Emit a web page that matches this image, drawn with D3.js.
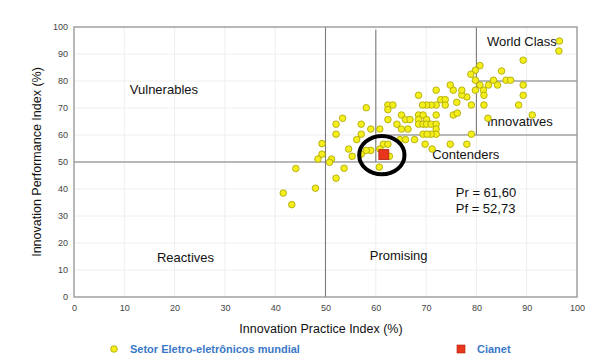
<!DOCTYPE html>
<html><head><meta charset="utf-8">
<script src="https://cdn.jsdelivr.net/npm/d3@7"></script>
<style>
html,body{margin:0;padding:0;background:#fff;}
svg{display:block;font-family:"Liberation Sans",Arial,sans-serif;}
</style></head>
<body>
<svg id="c" width="600" height="364"></svg>
<script>
// ---- data ----
const xTicks = [0,10,20,30,40,50,60,70,80,90,100];
const yTicks = [0,10,20,30,40,50,60,70,80,90,100];
const seriesNames = ["Setor Eletro-eletrônicos mundial", "Cianet"];
const sectorPoints = [
 [96.5,94.8],[96.4,91.1],[89.3,87.7],[80.7,85.7],[79.8,84.0],[78.9,82.5],[85.0,83.7],
 [79.8,80.3],[80.7,78.5],[79.8,76.6],[81.4,76.6],[82.4,78.5],[83.4,80.3],[84.2,78.5],
 [85.9,80.3],[86.8,80.3],[89.3,78.5],[89.3,74.7],[88.4,71.1],[91.1,67.4],[81.5,74.7],
 [81.5,71.1],[79.0,71.1],[78.1,74.1],[77.1,74.8],[77.1,76.6],[75.4,76.6],[74.8,78.5],
 [72.0,76.6],[68.5,74.7],[72.9,73.1],[73.8,73.1],[76.1,72.1],[73.8,71.1],[72.0,71.1],
 [71.0,71.1],[70.1,71.1],[69.3,71.1],[75.4,67.4],[76.2,68.1],[72.0,67.4],[68.5,67.4],
 [69.4,67.4],[68.5,65.7],[70.1,65.7],[68.5,64.0],[69.4,64.0],[70.1,64.0],[71.0,64.0],
 [72.0,64.0],[72.0,62.2],[72.0,60.3],[71.0,60.3],[69.4,60.3],[70.2,60.3],[79.0,60.3],
 [65.1,67.4],[65.9,65.7],[66.8,65.7],[62.4,65.7],[62.4,71.1],[63.4,71.1],[62.4,69.4],
 [58.1,70.1],[53.4,66.2],[52.1,64.0],[52.1,60.3],[57.1,64.0],[59.0,62.2],[60.8,62.2],
 [57.1,60.3],[56.2,58.3],[64.2,64.0],[65.1,62.2],[66.4,62.2],[64.8,58.3],[65.9,58.3],
 [67.7,58.3],[69.8,56.6],[71.2,54.8],[74.8,56.6],[78.1,56.6],[82.3,66.2],[61.5,56.6],
 [62.4,56.6],[60.8,54.8],[59.0,54.3],[58.1,54.3],[54.6,54.8],[57.1,52.9],[55.3,52.1],
 [62.7,52.1],[49.3,56.8],[49.3,52.9],[51.2,51.1],[48.5,51.1],[50.8,49.9],[60.7,48.1],
 [53.7,47.7],[52.1,44.0],[44.1,47.6],[48.0,40.3],[41.6,38.5],[43.3,34.2]
];
const cianetPr = 61.60;
const cianetPf = 52.73;
const quadrantLabels = ["World Class","Innovatives","Contenders","Vulnerables","Reactives","Promising"];
const xTitle = "Innovation Practice Index (%)";
const yTitle = "Innovation Performance Index (%)";

// ---- layout ----
const svg = d3.select("#c");
const L = 74, T = 27, W = 503, H = 270;
const x = d3.scaleLinear().domain([0,100]).range([L, L+W]);
const y = d3.scaleLinear().domain([0,100]).range([T+H, T]);

// gridlines
const g = svg.append("g");
g.selectAll("line.gx").data(xTicks.slice(1,-1)).enter().append("line")
  .attr("x1",d=>x(d)).attr("x2",d=>x(d)).attr("y1",y(0)).attr("y2",y(100))
  .attr("stroke","#eeeeee").attr("stroke-width",1);
g.selectAll("line.gy").data(yTicks.slice(1,-1)).enter().append("line")
  .attr("x1",x(0)).attr("x2",x(100)).attr("y1",d=>y(d)).attr("y2",d=>y(d))
  .attr("stroke","#eeeeee").attr("stroke-width",1);

// quadrant lines
const qc = "#7a7a7a";
const seg = (x1,y1,x2,y2)=>g.append("line").attr("x1",x(x1)).attr("y1",y(y1)).attr("x2",x(x2)).attr("y2",y(y2))
  .attr("stroke",qc).attr("stroke-width",1.1);
seg(50,0,50,100);
seg(0,50,100,50);
seg(60,50,60,99);
seg(60,60,100,60);
seg(80,60,80,100);
seg(80,80,100,80);

// border
g.append("rect").attr("x",x(0)).attr("y",y(100)).attr("width",W).attr("height",H)
  .attr("fill","none").attr("stroke","#9a9a9a").attr("stroke-width",1.4);

// axes
const xa = svg.append("g").attr("transform",`translate(0,${y(0)})`)
  .call(d3.axisBottom(x).tickValues(xTicks).tickSize(0).tickPadding(8));
const ya = svg.append("g").attr("transform",`translate(${x(0)},0)`)
  .call(d3.axisLeft(y).tickValues(yTicks).tickSize(0).tickPadding(6));
[xa,ya].forEach(a=>{
  a.select(".domain").remove();
  a.selectAll("text").attr("font-size",9).attr("fill","#444").attr("font-family","Liberation Sans, Arial, sans-serif");
});

// titles
svg.append("text").attr("x",321).attr("y",333).attr("text-anchor","middle")
  .attr("font-size",12.5).attr("fill","#111").text(xTitle);
svg.append("text").attr("transform",`translate(41,${162}) rotate(-90)`).attr("text-anchor","middle")
  .attr("font-size",12.5).attr("fill","#111").text(yTitle);

// quadrant labels
const lblPos = [[82.1,92.9],[82.1,63.2],[71.2,51.0],[11.1,75.1],[16.5,12.9],[58.8,13.6]];
quadrantLabels.forEach((t,i)=>{
  svg.append("text").attr("x",x(lblPos[i][0])).attr("y",y(lblPos[i][1]))
    .attr("font-size",13).attr("fill","#111").text(t);
});

// points
const yellowFill = "#f3ee1c", yellowStroke = "#a8a200";
svg.append("g").selectAll("circle").data(sectorPoints).enter().append("circle")
  .attr("cx",d=>x(d[0])).attr("cy",d=>y(d[1])).attr("r",3.3)
  .attr("fill",yellowFill).attr("stroke",yellowStroke).attr("stroke-width",0.8);

// Cianet point
const sq = 10;
svg.append("rect").attr("x",x(cianetPr)-sq/2).attr("y",y(cianetPf)-sq/2).attr("width",sq).attr("height",sq)
  .attr("fill","#e8361c").attr("stroke","#b02010").attr("stroke-width",0.8);
// highlight ellipse
svg.append("ellipse").attr("cx",x(cianetPr)-2).attr("cy",y(cianetPf)+0.5)
  .attr("rx",x(4.5)-x(0)).attr("ry",y(0)-y(7.1))
  .attr("fill","none").attr("stroke","#000").attr("stroke-width",4);

// Pr / Pf annotation
const fmt = v=>v.toFixed(2).replace(".",",");
svg.append("text").attr("x",x(75.9)).attr("y",y(36.9)).attr("font-size",13).attr("fill","#111")
  .text("Pr = " + fmt(cianetPr));
svg.append("text").attr("x",x(75.9)).attr("y",y(31.0)).attr("font-size",13).attr("fill","#111")
  .text("Pf = " + fmt(cianetPf));

// legend
const lg = svg.append("g");
lg.append("circle").attr("cx",114).attr("cy",349).attr("r",3.3)
  .attr("fill",yellowFill).attr("stroke",yellowStroke).attr("stroke-width",0.8);
lg.append("text").attr("x",130).attr("y",353).attr("font-size",11).attr("font-weight","bold")
  .attr("fill","#3a78c8").text(seriesNames[0]);
lg.append("rect").attr("x",457).attr("y",345).attr("width",8).attr("height",8)
  .attr("fill","#e8361c").attr("stroke","#b02010").attr("stroke-width",0.6);
lg.append("text").attr("x",477).attr("y",353).attr("font-size",11).attr("font-weight","bold")
  .attr("fill","#3a78c8").text(seriesNames[1]);
</script>
</body></html>
